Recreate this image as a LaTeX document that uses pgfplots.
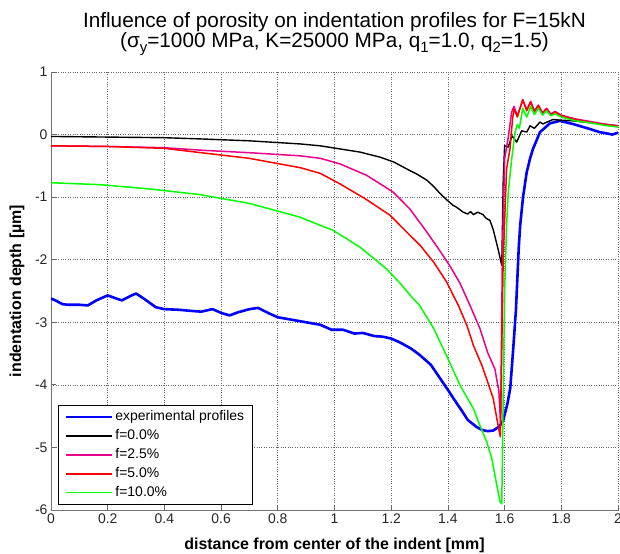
\documentclass[border=0pt]{standalone}
\usepackage{fontspec}
\setmainfont{Liberation Sans}
\usepackage{pgfplots}
\pgfplotsset{compat=1.18}
\newcommand{\sub}[1]{\raisebox{-5bp}{\fontsize{15}{15}\selectfont #1}}
\begin{document}
\begin{tikzpicture}
\useasboundingbox (-51bp,-44bp) rectangle (569bp,510bp);
\begin{axis}[
  width=567bp, height=438bp, scale only axis,
  xmin=0, xmax=2, ymin=-6, ymax=1,
  axis x line*=bottom, axis y line*=left,
  axis line style={black!55, line width=0.9bp},
  xtick={0,0.2,0.4,0.6,0.8,1,1.2,1.4,1.6,1.8,2},
  xticklabels={0,0.2,0.4,0.6,0.8,1,1.2,1.4,1.6,1.8,2},
  ytick={-6,-5,-4,-3,-2,-1,0,1},
  yticklabels={-6,-5,-4,-3,-2,-1,0,1},
  tick align=inside, major tick length=5bp,
  tick style={black!60, line width=0.8bp},
  ticklabel style={font=\fontsize{14}{14}\selectfont, text=black!85},
  grid=major,
  grid style={dotted, black!60, line width=0.7bp},
  every axis title/.style={at={(axis description cs:0.5,1)}, anchor=south, yshift=16bp, inner sep=0pt, align=center, font=\fontsize{20.8}{15}\selectfont},
  title={Influence of porosity on indentation profiles for F=15kN\\(σ\sub{y}=1000 MPa, K=25000 MPa, q\sub{1}=1.0, q\sub{2}=1.5)},
  every axis x label/.style={at={(axis description cs:0.5,-0.08)}, anchor=center, font=\fontsize{16}{16}\selectfont\bfseries},
  every axis y label/.style={at={(axis description cs:-0.06,0.5)}, rotate=90, anchor=center, font=\fontsize{16}{16}\selectfont\bfseries},
  xlabel={distance from center of the indent [mm]},
  ylabel={indentation depth [µm]},
  legend style={at={(0.0123,0.0114)}, anchor=south west, draw=black, line width=0.8bp, fill=white,
    font=\fontsize{14}{14}\selectfont, inner xsep=6bp, inner ysep=2.5bp, row sep=0bp,
    nodes={inner xsep=2.5bp, inner ysep=2.7bp, text height=10.5bp, text depth=3bp}},
  legend cell align=left,
  legend image code/.code={\draw[#1] (0bp,0bp) -- (46bp,0bp);},
  every axis plot/.append style={line join=round},
]
\addplot[blue, line width=2.6bp] coordinates {
(0,-2.62)(0.02,-2.66)(0.04,-2.71)(0.06,-2.72)(0.1,-2.72)(0.13,-2.73)(0.16,-2.65)(0.2,-2.57)(0.23,-2.62)(0.25,-2.65)(0.28,-2.58)(0.30,-2.54)(0.33,-2.63)(0.37,-2.76)(0.4,-2.79)(0.45,-2.8)(0.5,-2.82)(0.53,-2.83)(0.57,-2.79)(0.6,-2.85)(0.63,-2.89)(0.66,-2.84)(0.7,-2.79)(0.73,-2.77)(0.77,-2.86)(0.8,-2.92)(0.85,-2.96)(0.9,-3.0)(0.95,-3.04)(0.99,-3.12)(1.03,-3.12)(1.07,-3.18)(1.1,-3.17)(1.14,-3.22)(1.17,-3.23)(1.2,-3.26)(1.23,-3.32)(1.27,-3.42)(1.30,-3.52)(1.34,-3.68)(1.37,-3.88)(1.40,-4.08)(1.42,-4.22)(1.45,-4.42)(1.47,-4.56)(1.50,-4.67)(1.52,-4.72)(1.54,-4.74)(1.56,-4.73)(1.58,-4.67)(1.595,-4.57)(1.61,-4.3)(1.62,-4.05)(1.63,-3.45)(1.64,-2.8)(1.65,-1.8)(1.655,-1.45)(1.665,-1.0)(1.678,-0.6)(1.69,-0.38)(1.70,-0.23)(1.725,0.04)(1.76,0.18)(1.795,0.22)(1.84,0.17)(1.9,0.09)(1.935,0.04)(1.97,0.01)(1.98,0.0)(2.0,0.03)};
\addlegendentry{experimental profiles}
\addplot[black, line width=1.4bp] coordinates {
(0,-0.03)(0.2,-0.04)(0.4,-0.05)(0.53,-0.07)(0.7,-0.1)(0.88,-0.15)(0.95,-0.18)(1.02,-0.23)(1.09,-0.28)(1.16,-0.36)(1.21,-0.44)(1.255,-0.55)(1.29,-0.63)(1.326,-0.73)(1.35,-0.83)(1.372,-0.94)(1.40,-1.06)(1.418,-1.13)(1.43,-1.16)(1.454,-1.24)(1.47,-1.27)(1.48,-1.23)(1.49,-1.28)(1.505,-1.24)(1.524,-1.28)(1.535,-1.34)(1.548,-1.37)(1.56,-1.52)(1.577,-1.83)(1.59,-2.09)(1.595,-0.76)(1.60,-0.18)(1.613,-0.2)(1.626,-0.02)(1.643,-0.12)(1.66,0.06)(1.678,0.04)(1.69,0.14)(1.705,0.1)(1.725,0.2)(1.735,0.17)(1.77,0.24)(1.8,0.23)(1.84,0.22)(1.9,0.19)(2.0,0.14)};
\addlegendentry{f=0.0\%}
\addplot[magenta, line width=1.5bp] coordinates {
(0,-0.18)(0.2,-0.19)(0.4,-0.21)(0.53,-0.25)(0.7,-0.29)(0.88,-0.34)(0.95,-0.38)(1.02,-0.47)(1.113,-0.65)(1.207,-0.92)(1.266,-1.19)(1.326,-1.56)(1.372,-1.86)(1.41,-2.12)(1.443,-2.38)(1.478,-2.73)(1.513,-3.1)(1.54,-3.48)(1.566,-3.75)(1.58,-4.11)(1.586,-4.65)(1.592,-2.0)(1.60,-0.39)(1.612,-0.07)(1.625,0.36)(1.633,0.45)(1.645,0.3)(1.664,0.55)(1.678,0.4)(1.692,0.53)(1.705,0.38)(1.719,0.47)(1.734,0.35)(1.748,0.42)(1.763,0.33)(1.778,0.37)(1.8,0.31)(1.85,0.25)(1.9,0.21)(1.95,0.17)(2.0,0.14)};
\addlegendentry{f=2.5\%}
\addplot[red, line width=1.5bp] coordinates {
(0,-0.18)(0.2,-0.19)(0.4,-0.22)(0.53,-0.29)(0.7,-0.38)(0.88,-0.53)(0.95,-0.62)(1.02,-0.79)(1.11,-1.03)(1.196,-1.29)(1.255,-1.56)(1.302,-1.77)(1.35,-2.04)(1.396,-2.36)(1.42,-2.58)(1.437,-2.73)(1.467,-3.05)(1.49,-3.37)(1.52,-3.69)(1.54,-3.95)(1.56,-4.22)(1.577,-4.65)(1.585,-4.83)(1.595,-2.0)(1.607,-0.55)(1.619,-0.23)(1.628,0.25)(1.633,0.41)(1.645,0.28)(1.664,0.56)(1.678,0.38)(1.692,0.52)(1.705,0.36)(1.719,0.46)(1.734,0.33)(1.748,0.41)(1.763,0.31)(1.778,0.36)(1.8,0.3)(1.85,0.24)(1.9,0.2)(1.95,0.16)(2.0,0.13)};
\addlegendentry{f=5.0\%}
\addplot[green, line width=1.5bp] coordinates {
(0,-0.77)(0.17,-0.8)(0.35,-0.87)(0.526,-0.96)(0.7,-1.1)(0.878,-1.32)(0.95,-1.45)(0.995,-1.53)(1.09,-1.8)(1.136,-1.97)(1.184,-2.15)(1.23,-2.37)(1.277,-2.62)(1.30,-2.73)(1.35,-3.1)(1.40,-3.58)(1.443,-4.01)(1.49,-4.38)(1.513,-4.65)(1.537,-4.91)(1.555,-5.18)(1.566,-5.45)(1.584,-5.87)(1.59,-5.9)(1.60,-2.52)(1.607,-1.45)(1.613,-0.92)(1.625,-0.39)(1.637,0.04)(1.645,0.16)(1.652,0.1)(1.664,0.42)(1.678,0.28)(1.692,0.45)(1.705,0.32)(1.719,0.42)(1.734,0.31)(1.748,0.38)(1.763,0.3)(1.778,0.33)(1.8,0.28)(1.85,0.22)(1.9,0.19)(1.95,0.15)(2.0,0.12)};
\addlegendentry{f=10.0\%}
\end{axis}
\end{tikzpicture}
\end{document}
